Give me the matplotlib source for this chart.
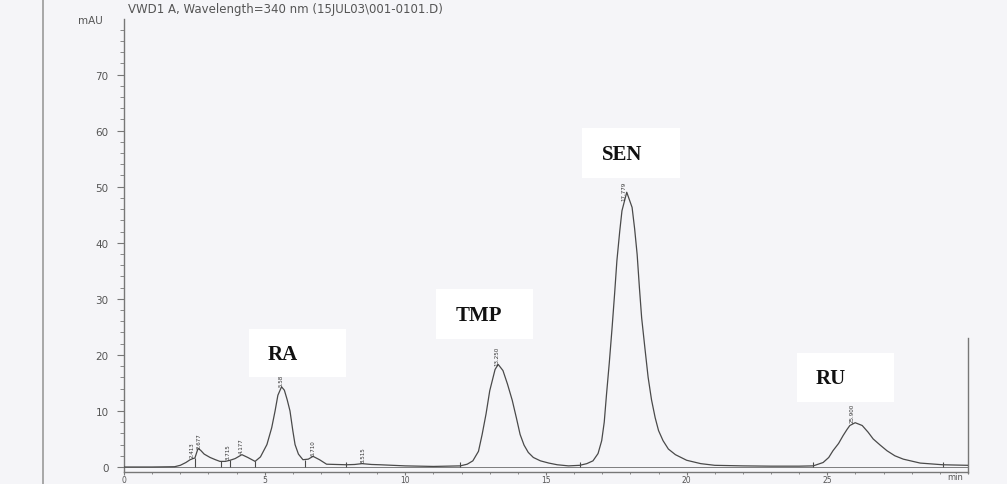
import numpy as np
import matplotlib
matplotlib.use("Agg")
import matplotlib.pyplot as plt
from matplotlib.patches import Rectangle

# ------------------------------
# DATA
# ------------------------------

# detector trace, retention time (min) vs absorbance (mAU)
TIME_MIN = [
    0.0, 1.0, 1.8, 2.0, 2.2, 2.35, 2.45, 2.52, 2.63, 2.72, 2.85, 3.06, 3.25, 3.41,
    3.6, 3.77, 3.95, 4.19, 4.4, 4.66, 4.85, 5.08, 5.25, 5.37, 5.47, 5.6, 5.7,
    5.8, 5.9, 6.0, 6.08, 6.2, 6.36, 6.55, 6.72, 6.95, 7.2, 7.9, 8.2, 8.46, 8.8,
    9.1, 10.0, 11.0, 11.95, 12.2, 12.4, 12.6, 12.73, 12.87, 13.0, 13.19, 13.3,
    13.47, 13.63, 13.8, 13.95, 14.08, 14.22, 14.37, 14.55, 14.8, 15.1, 15.4,
    15.8, 16.2, 16.45, 16.67, 16.85, 16.98, 17.07, 17.15, 17.25, 17.35, 17.44,
    17.52, 17.62, 17.7, 17.87, 18.06, 18.15, 18.24, 18.32, 18.4, 18.52, 18.63,
    18.75, 18.88, 19.0, 19.16, 19.35, 19.6, 20.0, 20.5, 21.0, 22.0, 23.0, 24.0,
    24.5, 24.85, 25.05, 25.2, 25.4, 25.56, 25.7, 25.8, 25.99, 26.24, 26.45,
    26.63, 26.88, 27.12, 27.4, 27.7, 28.3, 29.1, 30.0,
]
SIGNAL_MAU = [
    0.0, 0.0, 0.05, 0.3, 0.8, 1.3, 1.5, 1.6, 3.3, 3.0, 2.3, 1.7, 1.3, 1.0,
    1.0, 1.2, 1.5, 2.2, 1.7, 1.0, 1.8, 4.0, 7.0, 10.0, 12.8, 14.3, 13.7,
    12.0, 10.0, 6.5, 4.0, 2.3, 1.3, 1.4, 1.9, 1.3, 0.5, 0.4, 0.45, 0.6, 0.45,
    0.4, 0.2, 0.1, 0.2, 0.5, 1.1, 2.8, 5.8, 9.5, 13.6, 17.4, 18.3,
    17.2, 14.8, 11.9, 8.7, 5.8, 3.9, 2.6, 1.7, 1.1, 0.7, 0.4,
    0.2, 0.3, 0.6, 1.1, 2.4, 4.7, 8.0, 12.9, 18.6, 24.9, 31.0,
    36.8, 42.0, 45.7, 49.0, 46.3, 42.5, 37.9, 32.0, 26.6, 21.0, 16.0,
    12.0, 8.8, 6.5, 4.7, 3.2, 2.2, 1.2, 0.6, 0.3, 0.2, 0.15, 0.15,
    0.2, 0.8, 1.7, 2.9, 4.2, 5.6, 6.7, 7.4, 7.9, 7.4, 6.2,
    5.0, 3.9, 2.9, 2.0, 1.4, 0.7, 0.4, 0.3,
]

# integrator peak table: retention times printed above the peaks
PEAK_TIMES = [2.413, 2.677, 3.715, 4.177, 5.586, 6.710, 8.515, 13.250, 17.779, 25.900]
PEAK_LABELS = ["2.413", "2.677", "3.715", "4.177", "5.586", "6.710", "8.515",
               "13.250", "17.779", "25.900"]

# integration baseline drop marks (min)
DROP_TIMES = [2.52, 3.45, 3.77, 4.66, 6.43, 7.9, 11.95, 16.2, 24.5, 29.1]

# compound names written on the scan
COMPOUNDS = ["RA", "TMP", "SEN", "RU"]

Y_TICKS = [0, 10, 20, 30, 40, 50, 60, 70]
X_TICKS = [0, 5, 10, 15, 20, 25]

# ------------------------------
# LAYOUT (pixel positions on a 1007x485 canvas)
# ------------------------------
W, H = 1007, 485
# compound label boxes: left, top, right, bottom, text-left
BOX_PX = [
    (249, 330, 346, 378, 268),
    (436, 290, 533, 340, 456),
    (582, 129, 680, 179, 602),
    (797, 354, 894, 403, 816),
]
ZERO_PX = 468.0      # pixel row of 0 mAU
PX_PER_MAU = 5.607
AX_BOTTOM_PX = 472.5
AX_TOP_PX = 20

PAPER = "#f5f5f8"
INK = "#4a4a4a"


def fx(px):
    return px / W


def fy(py):
    return 1 - py / H


def main():
    fig = plt.figure(figsize=(W / 100, H / 100), dpi=100, facecolor=PAPER)

    # page border line on the left of the scan
    fig.add_artist(plt.Line2D([fx(43), fx(43)], [0, 1], color="#9a9a9a", lw=1.2))

    ax = fig.add_axes([fx(124), fy(AX_BOTTOM_PX), fx(968) - fx(124),
                       fy(AX_TOP_PX) - fy(AX_BOTTOM_PX)])
    ax.set_facecolor(PAPER)
    ax.set_xlim(0, 30)
    ax.set_ylim((ZERO_PX - AX_BOTTOM_PX) / PX_PER_MAU, (ZERO_PX - AX_TOP_PX) / PX_PER_MAU)

    ax.spines["top"].set_visible(False)
    ax.spines["right"].set_bounds(-1, 23)
    for side in ["left", "bottom", "right"]:
        ax.spines[side].set_color("#777777")
        ax.spines[side].set_linewidth(1.0)

    ax.set_yticks(Y_TICKS)
    ax.set_yticks(np.arange(0, 80, 2), minor=True)
    ax.set_xticks(X_TICKS)
    ax.set_xticks(np.arange(0, 31, 1), minor=True)
    ax.tick_params(axis="y", which="major", length=5, width=0.8, color="#777777",
                   labelsize=7.5, labelcolor="#555555", pad=6)
    ax.tick_params(axis="y", which="minor", length=3, width=0.7, color="#888888")
    ax.tick_params(axis="x", which="major", length=2.5, width=0.8, color="#777777",
                   labelsize=5.5, labelcolor="#555555", pad=0.3)
    ax.tick_params(axis="x", which="minor", length=1.5, width=0.7, color="#888888")

    # chromatogram trace
    ax.plot(TIME_MIN, SIGNAL_MAU, color=INK, lw=0.9, zorder=3)
    # integration baseline
    ax.plot([TIME_MIN[0], TIME_MIN[-1]], [0, 0], color="#6a6a6a", lw=0.6, zorder=2)

    # baseline drop marks
    drop_tops = np.interp(DROP_TIMES, TIME_MIN, SIGNAL_MAU)
    ax.vlines(DROP_TIMES, 0, np.maximum(drop_tops, 0.9), color=INK, lw=0.8, zorder=3)

    # retention time labels above each peak
    peak_tops = np.interp(PEAK_TIMES, TIME_MIN, SIGNAL_MAU)
    for t, top, lab in zip(PEAK_TIMES, peak_tops, PEAK_LABELS):
        ax.text(t, top + 0.3, lab, rotation=90, ha="center", va="bottom",
                fontsize=4, family=["Liberation Sans Narrow", "DejaVu Sans"],
                color="#333333", zorder=4)

    # axis captions
    fig.text(fx(78), fy(21), "mAU", fontsize=7.5, color="#555555", va="center")
    fig.text(fx(947), fy(478), "min", fontsize=6, color="#555555", va="center")
    fig.text(fx(128), fy(9), "VWD1 A, Wavelength=340 nm (15JUL03\\001-0101.D)",
             fontsize=8.5, color="#555555", va="center")

    # white boxes with compound names
    for (l, t, r, b, tx), name in zip(BOX_PX, COMPOUNDS):
        fig.add_artist(Rectangle((fx(l), fy(b)), fx(r) - fx(l), fy(t) - fy(b),
                                 facecolor="white", edgecolor="none", zorder=5))
        fig.text(fx(tx), fy((t + b) / 2 + 1), name, fontsize=15, fontweight="bold",
                 family="Liberation Serif", color="#111111", va="center",
                 ha="left", zorder=6)

    fig.savefig("out.png", dpi=100, facecolor=PAPER)
    plt.close(fig)


if __name__ == "__main__":
    main()
